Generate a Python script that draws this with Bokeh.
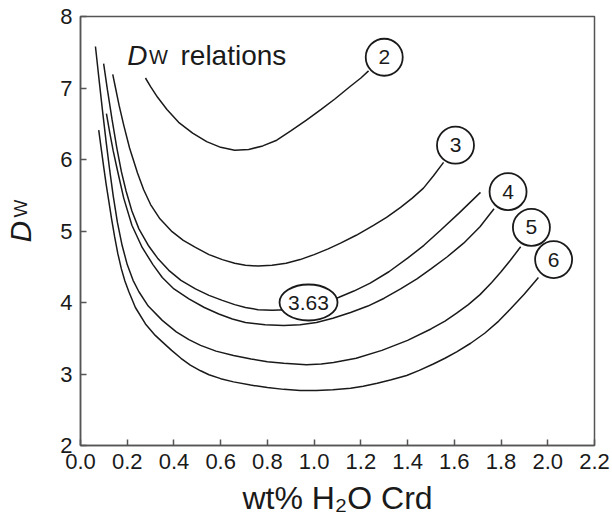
import math
from bokeh.plotting import figure
from bokeh.layouts import row
from bokeh.models import Range1d, FixedTicker, PrintfTickFormatter
from bokeh.core.properties import value
from bokeh.embed import file_html
from bokeh.resources import INLINE

# ---- data ----
x_ticks = [0.0, 0.2, 0.4, 0.6, 0.8, 1.0, 1.2, 1.4, 1.6, 1.8, 2.0, 2.2]
y_ticks = [2, 3, 4, 5, 6, 7, 8]

# curve labelled 2
x2 = [0.278, 0.30, 0.33, 0.37, 0.42, 0.48, 0.54, 0.60, 0.66, 0.72, 0.78, 0.84, 0.90,
      0.967, 1.03, 1.09, 1.15, 1.20, 1.233]
y2 = [7.14, 7.02, 6.87, 6.70, 6.52, 6.37, 6.25, 6.17, 6.13, 6.14, 6.19, 6.27, 6.40,
      6.55, 6.70, 6.85, 7.01, 7.14, 7.24]

# curve labelled 3
x3 = [0.138, 0.15, 0.165, 0.185, 0.21, 0.244, 0.27, 0.30, 0.34, 0.392, 0.44, 0.492, 0.55,
      0.607, 0.66, 0.706, 0.76, 0.82, 0.88, 0.94, 1.0, 1.06, 1.113, 1.18, 1.254, 1.31,
      1.37, 1.42, 1.468, 1.51, 1.554]
y3 = [7.19, 7.00, 6.76, 6.48, 6.16, 5.81, 5.58, 5.37, 5.17, 4.99, 4.87, 4.77, 4.67,
      4.60, 4.55, 4.52, 4.51, 4.52, 4.55, 4.60, 4.67, 4.75, 4.83, 4.94, 5.08, 5.19,
      5.33, 5.46, 5.60, 5.77, 5.96]

# curve labelled 3.63
x363 = [0.099, 0.115, 0.135, 0.155, 0.175, 0.195, 0.22, 0.25, 0.292, 0.33, 0.378, 0.43,
        0.492, 0.55, 0.607, 0.66, 0.706, 0.76, 0.82, 0.88, 0.976, 1.04, 1.104, 1.17, 1.24,
        1.32, 1.40, 1.47, 1.541, 1.62, 1.712]
y363 = [7.34, 6.98, 6.56, 6.17, 5.83, 5.56, 5.28, 5.03, 4.79, 4.62, 4.45, 4.31,
        4.19, 4.10, 4.03, 3.97, 3.93, 3.90, 3.89, 3.90, 3.96, 4.01, 4.07, 4.16, 4.27,
        4.43, 4.62, 4.80, 5.01, 5.25, 5.54]

# curve labelled 4
x4 = [0.111, 0.125, 0.14, 0.158, 0.185, 0.22, 0.264, 0.31, 0.35, 0.40, 0.464, 0.53,
      0.592, 0.65, 0.706, 0.79, 0.87, 0.94, 1.01, 1.08, 1.156, 1.23, 1.30, 1.37, 1.44,
      1.50, 1.57, 1.64, 1.71, 1.77]
y4 = [6.64, 6.38, 6.12, 5.85, 5.46, 5.08, 4.77, 4.53, 4.35, 4.19, 4.05, 3.93,
      3.84, 3.77, 3.72, 3.69, 3.68, 3.69, 3.72, 3.78, 3.86, 3.95, 4.06, 4.19, 4.33,
      4.47, 4.64, 4.83, 5.06, 5.31]

# curve labelled 5
x5 = [0.064, 0.08, 0.095, 0.11, 0.125, 0.14, 0.158, 0.178, 0.20, 0.225, 0.25, 0.29,
      0.35, 0.41, 0.464, 0.514, 0.58, 0.655, 0.73, 0.80, 0.87, 0.967, 1.03, 1.083,
      1.18, 1.29, 1.40, 1.50, 1.56, 1.61, 1.66, 1.71, 1.76, 1.80, 1.84, 1.884]
y5 = [7.58, 7.10, 6.66, 6.24, 5.85, 5.49, 5.12, 4.80, 4.53, 4.31, 4.15, 3.95,
      3.75, 3.59, 3.48, 3.40, 3.32, 3.26, 3.21, 3.17, 3.15, 3.13, 3.14, 3.16,
      3.22, 3.33, 3.47, 3.63, 3.74, 3.85, 3.97, 4.11, 4.28, 4.43, 4.59, 4.78]

# curve labelled 6
x6 = [0.078, 0.09, 0.10, 0.11, 0.121, 0.133, 0.146, 0.16, 0.175, 0.19, 0.207, 0.235,
      0.278, 0.32, 0.35, 0.39, 0.43, 0.47, 0.514, 0.55, 0.60, 0.655, 0.728, 0.80, 0.87,
      0.94, 1.01, 1.08, 1.156, 1.21, 1.27, 1.33, 1.396, 1.45, 1.51, 1.56, 1.61, 1.67,
      1.73, 1.79, 1.84, 1.90, 1.96]
y6 = [6.41, 6.12, 5.88, 5.65, 5.42, 5.17, 4.92, 4.68, 4.47, 4.30, 4.15, 3.93,
      3.70, 3.54, 3.45, 3.33, 3.22, 3.125, 3.045, 2.99, 2.935, 2.89, 2.845, 2.81, 2.785,
      2.77, 2.77, 2.78, 2.80, 2.83, 2.87, 2.92, 2.98, 3.05, 3.14, 3.22, 3.31, 3.43,
      3.57, 3.74, 3.91, 4.12, 4.35]

circle_labels = ["2", "3", "4", "5", "6"]
circle_x = [1.30, 1.605, 1.83, 1.93, 2.025]
circle_y = [7.43, 6.20, 5.55, 5.05, 4.60]

ellipse_label = ["3.63"]
ellipse_x = [0.976]
ellipse_y = [4.00]

FONT = "Liberation Sans"
INK = "#1a1a1a"
AXC = "#555555"

# ---- main plot ----
p = figure(frame_width=514, frame_height=429, x_range=Range1d(0, 2.2), y_range=Range1d(2, 8),
           output_backend="svg", toolbar_location=None,
           min_border_left=40, min_border_right=18, min_border_top=16, min_border_bottom=71)
p.grid.visible = False
p.outline_line_color = AXC
p.outline_line_width = 1.5
p.background_fill_color = "white"
p.border_fill_color = "white"

for ax in (p.xaxis, p.yaxis):
    ax.axis_line_color = AXC
    ax.axis_line_width = 1.5
    ax.major_tick_in = 6
    ax.major_tick_out = 0
    ax.major_tick_line_color = AXC
    ax.major_tick_line_width = 1.5
    ax.minor_tick_line_color = None
    ax.major_label_text_font = FONT
    ax.major_label_text_font_size = "22px"
    ax.major_label_text_color = INK
    ax.major_label_standoff = 8

p.xaxis.ticker = FixedTicker(ticks=x_ticks)
p.xaxis.formatter = PrintfTickFormatter(format="%.1f")
p.yaxis.ticker = FixedTicker(ticks=y_ticks)
p.xaxis.axis_label = "wt% H\u2082O Crd"
p.xaxis.axis_label_text_font = FONT
p.xaxis.axis_label_text_font_style = "normal"
p.xaxis.axis_label_text_font_size = "32px"
p.xaxis.axis_label_text_color = INK
p.xaxis.axis_label_standoff = 8

# curves
for xs, ys in [(x2, y2), (x3, y3), (x363, y363), (x4, y4), (x5, y5), (x6, y6)]:
    p.line(xs, ys, line_color=INK, line_width=1.5)

# label circles and ellipse
p.scatter(circle_x, circle_y, marker="circle", size=37, fill_color="white",
          line_color=INK, line_width=1.8)
p.text(circle_x, circle_y, text=circle_labels, text_font=value(FONT), text_font_size="21px",
       text_align="center", text_baseline="middle", text_color=INK)
p.ellipse(ellipse_x, ellipse_y, width=58, height=36, width_units="screen", height_units="screen",
          fill_color="white", line_color=INK, line_width=1.8)
p.text(ellipse_x, ellipse_y, text=ellipse_label, text_font=value(FONT), text_font_size="21px",
       text_align="center", text_baseline="middle", text_color=INK)

# in-plot title "D_W relations"
p.text([0.2], [7.455], text=["D"], text_font=value(FONT), text_font_style="italic",
       text_font_size="28px", text_baseline="alphabetic", text_color=INK)
p.text([0.293], [7.44], text=["W"], text_font=value(FONT), text_font_size="20px",
       text_baseline="alphabetic", text_color=INK)
p.text([0.428], [7.455], text=["relations"], text_font=value(FONT), text_font_size="28px",
       text_baseline="alphabetic", text_color=INK)

# ---- strip at the left holding the y-axis title "D_W" ----
lab = figure(width=40, height=516, x_range=Range1d(0, 40), y_range=Range1d(0, 516),
             x_axis_type=None, y_axis_type=None, output_backend="svg", toolbar_location=None,
             min_border=0)
lab.grid.visible = False
lab.outline_line_color = None
lab.background_fill_color = "white"
lab.border_fill_color = "white"
lab.text([19.5], [256.0], text=["D"], angle=math.pi / 2, text_font=value(FONT),
         text_font_style="italic", text_font_size="30px", text_baseline="middle",
         text_align="center", text_color=INK)
lab.text([20.0], [284.0], text=["W"], angle=math.pi / 2, text_font=value(FONT),
         text_font_size="19px", text_baseline="middle", text_align="center", text_color=INK)

layout = row(lab, p, spacing=0)
open("out.html", "w").write(file_html(layout, INLINE))
